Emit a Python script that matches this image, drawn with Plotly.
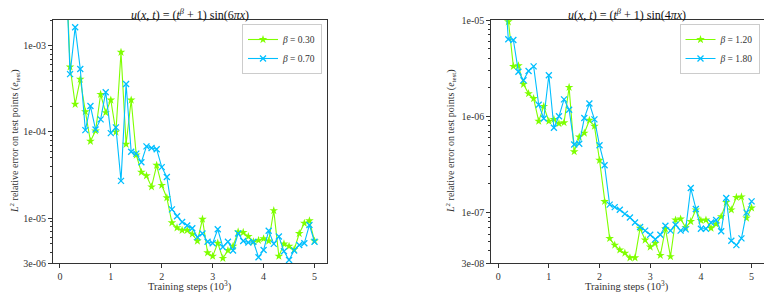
import math
import plotly.graph_objects as go

steps = [0.1, 0.2, 0.3, 0.4, 0.5, 0.6, 0.7, 0.8, 0.9, 1.0,
         1.1, 1.2, 1.3, 1.4, 1.5, 1.6, 1.7, 1.8, 1.9, 2.0,
         2.1, 2.2, 2.3, 2.4, 2.5, 2.6, 2.7, 2.8, 2.9, 3.0,
         3.1, 3.2, 3.3, 3.4, 3.5, 3.6, 3.7, 3.8, 3.9, 4.0,
         4.1, 4.2, 4.3, 4.4, 4.5, 4.6, 4.7, 4.8, 4.9, 5.0]

left_b030 = [1.7e-2, 5.7e-4, 2.1e-4, 4.1e-4, 1.72e-4, 7.8e-5, 1.03e-4, 2.74e-4, 1.68e-4, 2.35e-4,
             1.0e-4, 8.45e-4, 7.2e-5, 2.35e-4, 5.4e-5, 3.4e-5, 3.1e-5, 2.3e-5, 4.1e-5, 2.4e-5,
             1.72e-5, 8.8e-6, 7.7e-6, 7.2e-6, 7.2e-6, 6.5e-6, 5.4e-6, 9.7e-6, 3.95e-6, 3.6e-6,
             5.1e-6, 3.4e-6, 4.2e-6, 4.7e-6, 6.9e-6, 6.8e-6, 6.1e-6, 5.3e-6, 5.5e-6, 5.75e-6,
             5.4e-6, 1.22e-5, 3.6e-6, 5.0e-6, 4.7e-6, 4.3e-6, 6.6e-6, 8.7e-6, 9.3e-6, 5.4e-6]
left_b070 = [1.5e-2, 4.7e-4, 1.65e-3, 5.4e-4, 1.05e-4, 2.0e-4, 1.07e-4, 1.4e-4, 2.9e-4, 9.7e-5,
             1.13e-4, 2.7e-5, 3.6e-4, 5.9e-5, 5.6e-5, 4.45e-5, 6.8e-5, 6.5e-5, 6.3e-5, 3.9e-5,
             3.0e-5, 1.26e-5, 1.05e-5, 9.0e-6, 8.2e-6, 7.6e-6, 6.0e-6, 6.6e-6, 5.3e-6, 5.1e-6,
             7.4e-6, 4.6e-6, 5.3e-6, 4.2e-6, 6.6e-6, 5.4e-6, 5.2e-6, 5.3e-6, 3.5e-6, 4.25e-6,
             7.1e-6, 5.0e-6, 6.1e-6, 4.1e-6, 3.25e-6, 4.2e-6, 4.85e-6, 5.1e-6, 8.3e-6, 5.3e-6]

right_b120 = [3e-5, 9.6e-6, 3.3e-6, 3.35e-6, 2.15e-6, 1.72e-6, 1.53e-6, 8.9e-7, 1.27e-6, 8.9e-7,
              9.3e-7, 8.4e-7, 8.6e-7, 2.0e-6, 4.3e-7, 6.1e-7, 6.7e-7, 9.1e-7, 7.9e-7, 3.5e-7,
              1.31e-7, 5.4e-8, 4.6e-8, 4.1e-8, 3.8e-8, 3.4e-8, 3.4e-8, 6.9e-8, 5.2e-8, 4.4e-8,
              4.8e-8, 3.6e-8, 6.8e-8, 3.5e-8, 8.4e-8, 8.6e-8, 7.0e-8, 8.1e-8, 1.07e-7, 8.3e-8,
              8.4e-8, 6.9e-8, 7.6e-8, 9.1e-8, 1.28e-7, 1.07e-7, 1.44e-7, 1.46e-7, 8.8e-8, 1.12e-7]
right_b180 = [4e-5, 6.3e-6, 6.2e-6, 2.9e-6, 2.37e-6, 2.96e-6, 3.3e-6, 1.32e-6, 9.5e-7, 2.67e-6,
              7.6e-7, 1.0e-6, 1.5e-6, 1.17e-6, 5.1e-7, 5.2e-7, 9.6e-7, 1.36e-6, 9.3e-7, 5.0e-7,
              3.1e-7, 1.21e-7, 1.14e-7, 1.07e-7, 9.7e-8, 8.9e-8, 7.9e-8, 7.1e-8, 6.5e-8, 5.9e-8,
              5.3e-8, 5.9e-8, 7.3e-8, 6.5e-8, 7.5e-8, 6.5e-8, 6.7e-8, 1.8e-7, 1.09e-7, 6.8e-8,
              6.8e-8, 7.9e-8, 8.4e-8, 6.4e-8, 1.42e-7, 5.1e-8, 4.6e-8, 5.4e-8, 1.0e-7, 1.31e-7]

left_names = ["<i>β</i> = 0.30", "<i>β</i> = 0.70"]
right_names = ["<i>β</i> = 1.20", "<i>β</i> = 1.80"]
left_title = "<i>u</i>(<i>x</i>, <i>t</i>) = (<i>t</i><sup><i>β</i></sup> + 1) sin(6<i>πx</i>)"
right_title = "<i>u</i>(<i>x</i>, <i>t</i>) = (<i>t</i><sup><i>β</i></sup> + 1) sin(4<i>πx</i>)"
ylabel = "<i>L</i><sup>2</sup> relative error on test points (<i>e</i><sub>test</sub>)"
xlabel = "Training steps (10<sup>3</sup>)"

x_ticks = [0, 1, 2, 3, 4, 5]
left_major = [1e-3, 1e-4, 1e-5, 3e-6]
left_major_text = ["1e-03", "1e-04", "1e-05", "3e-06"]
right_major = [1e-5, 1e-6, 1e-7, 3e-8]
right_major_text = ["1e-05", "1e-06", "1e-07", "3e-08"]

GREEN = "#7FFF00"
BLUE = "#00BFFF"
FONT = "Liberation Serif"
INK = "#333333"

# the page body has an 8px default margin; size the figure so it fills the window
OFF = 8
W, H = 772 - OFF, 297 - OFF
PLOT_TOP, PLOT_BOT = 20, 263          # window pixels
MT = PLOT_TOP - OFF
MB = (H + OFF) - PLOT_BOT
PH = PLOT_BOT - PLOT_TOP


def px_x(px):
    return (px - OFF) / W


def px_y(py):
    return (PLOT_BOT - py) / PH


def minor_vals(lo_exp, hi_exp, lo_val, hi_val, majors):
    vals = []
    for e in range(lo_exp, hi_exp + 1):
        for m in range(1, 10):
            v = m * 10.0 ** e
            if lo_val * 0.999 <= v <= hi_val * 1.001 and not any(abs(v - mj) / mj < 1e-6 for mj in majors):
                vals.append(v)
    return vals


fig = go.Figure()


def add_pair(xa, ya, s1, s2, names, legend):
    fig.add_trace(go.Scatter(
        x=steps, y=s1, name=names[0], xaxis=xa, yaxis=ya, legend=legend,
        mode="lines+markers", line=dict(color=GREEN, width=1.1),
        marker=dict(symbol="star", size=6.5, color=GREEN, line=dict(width=0))))
    fig.add_trace(go.Scatter(
        x=steps, y=s2, name=names[1], xaxis=xa, yaxis=ya, legend=legend,
        mode="lines+markers", line=dict(color=BLUE, width=1.1),
        marker=dict(symbol="x-thin", size=6, color=BLUE, line=dict(width=1.3, color=BLUE))))


add_pair("x", "y", left_b030, left_b070, left_names, "legend")
add_pair("x2", "y2", right_b120, right_b180, right_names, "legend2")

axis_common = dict(
    showline=True, linecolor=INK, linewidth=1, mirror=True,
    ticks="outside", ticklen=3.5, tickwidth=0.8, tickcolor=INK,
    showgrid=False, zeroline=False,
    tickfont=dict(family=FONT, size=10, color=INK),
)
minor_common = dict(ticks="outside", ticklen=2, tickwidth=0.6, tickcolor=INK)

L_X0, L_X1 = 52.5, 327.0
R_X0, R_X1 = 490.8, 764.0

legend_common = dict(
    yanchor="top", bgcolor="rgba(255,255,255,0.8)", bordercolor="#cccccc", borderwidth=1,
    font=dict(family=FONT, size=9.5, color=INK), tracegroupgap=0, itemwidth=30,
)

annotations = [
    dict(text=left_title, x=px_x((L_X0 + L_X1) / 2), y=px_y(14.5), xref="paper", yref="paper",
         xanchor="center", yanchor="middle", showarrow=False,
         font=dict(family=FONT, size=12, color="#111111")),
    dict(text=right_title, x=px_x((R_X0 + R_X1) / 2), y=px_y(14.5), xref="paper", yref="paper",
         xanchor="center", yanchor="middle", showarrow=False,
         font=dict(family=FONT, size=12, color="#111111")),
    dict(text=xlabel, x=px_x((L_X0 + L_X1) / 2), y=px_y(286), xref="paper", yref="paper",
         xanchor="center", yanchor="middle", showarrow=False,
         font=dict(family=FONT, size=10.5, color=INK)),
    dict(text=xlabel, x=px_x((R_X0 + R_X1) / 2), y=px_y(286), xref="paper", yref="paper",
         xanchor="center", yanchor="middle", showarrow=False,
         font=dict(family=FONT, size=10.5, color=INK)),
    dict(text=ylabel, x=px_x(15), y=px_y(141), xref="paper", yref="paper", textangle=-90,
         xanchor="center", yanchor="middle", showarrow=False,
         font=dict(family=FONT, size=10, color=INK)),
    dict(text=ylabel, x=px_x(451), y=px_y(141), xref="paper", yref="paper", textangle=-90,
         xanchor="center", yanchor="middle", showarrow=False,
         font=dict(family=FONT, size=10, color=INK)),
]

fig.update_layout(
    width=W, height=H,
    margin=dict(l=0, r=0, t=MT, b=MB),
    paper_bgcolor="white", plot_bgcolor="white",
    font=dict(family=FONT, size=10, color=INK),
    xaxis=dict(domain=[px_x(L_X0), px_x(L_X1)], range=[-0.145, 5.245], anchor="y",
               tickvals=x_ticks, **axis_common),
    yaxis=dict(type="log", anchor="x", range=[math.log10(3e-6), math.log10(2e-3)],
               tickvals=left_major, ticktext=left_major_text,
               minor=dict(tickvals=minor_vals(-6, -3, 3e-6, 2e-3, left_major), **minor_common),
               **axis_common),
    xaxis2=dict(domain=[px_x(R_X0), px_x(R_X1)], range=[-0.145, 5.245], anchor="y2",
                tickvals=x_ticks, **axis_common),
    yaxis2=dict(type="log", anchor="x2", range=[math.log10(3e-8), -5],
                tickvals=right_major, ticktext=right_major_text,
                minor=dict(tickvals=minor_vals(-8, -5, 3e-8, 1e-5, right_major), **minor_common),
                **axis_common),
    legend=dict(x=px_x(322), y=px_y(24), xanchor="right", **legend_common),
    legend2=dict(x=px_x(759.5), y=px_y(24), xanchor="right", **legend_common),
    annotations=annotations,
)

fig.write_html("out.html")
